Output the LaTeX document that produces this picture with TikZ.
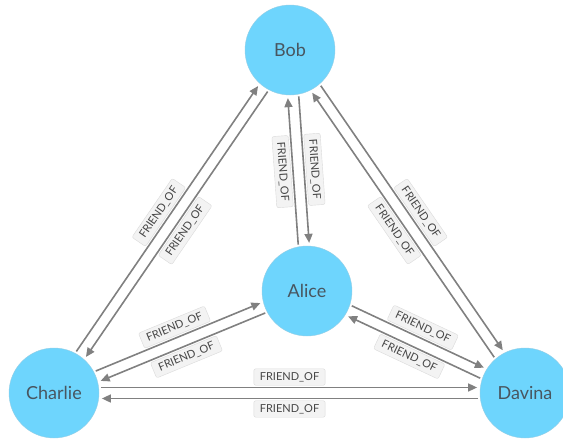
\documentclass[tikz,border=0pt]{standalone}
\usepackage{fontspec}
\setmainfont{Lato}
\usetikzlibrary{arrows.meta}

\definecolor{nodefill}{RGB}{110,213,253}
\definecolor{noderim}{RGB}{150,205,228}
\definecolor{nodetext}{RGB}{72,86,96}
\definecolor{relgray}{RGB}{128,128,128}
\definecolor{capfill}{RGB}{243,243,243}
\definecolor{caprim}{RGB}{218,218,218}
\definecolor{captext}{RGB}{70,70,70}

\tikzset{
  person/.style={circle, minimum size=90pt, inner sep=0pt, fill=nodefill,
    draw=noderim, line width=0.4pt, text=nodetext,
    font=\fontsize{18}{20}\selectfont},
  rel/.style={draw=relgray, line width=1.6pt,
    -{Triangle[length=9pt,width=8pt]}, shorten >=3pt, shorten <=2pt},
  caption/.style={fill=capfill, draw=caprim, line width=0.4pt,
    rounded corners=2pt, text=captext, inner xsep=6pt, inner ysep=3.5pt,
    text height=8pt, text depth=1.5pt,
    font=\fontsize{11}{13}\selectfont, sloped, midway},
}

\begin{document}
\begin{tikzpicture}[x=1pt, y=-1pt]
  \useasboundingbox (0,0) rectangle (563,439);

  % people
  \node[person] (B) at (290,50)  {Bob};
  \node[person] (A) at (307,291) {Alice};
  \node[person] (C) at (54,393)  {Charlie};
  \node[person] (D) at (525,393) {Davina};

  % relationships, each pair offset to the left of its direction
  \draw[rel] (C.62.4)  -- (B.228.4) node[caption, above=2pt] {FRIEND\_OF};
  \draw[rel] (B.242.4) -- (C.48.4)  node[caption, below=2pt] {FRIEND\_OF};

  \draw[rel] (A.101)   -- (B.267)   node[caption, below=2pt] {FRIEND\_OF};
  \draw[rel] (B.281)   -- (A.87)    node[caption, above=2pt] {FRIEND\_OF};

  \draw[rel] (B.311.5) -- (D.117.5) node[caption, above=2pt] {FRIEND\_OF};
  \draw[rel] (D.131.5) -- (B.297.5) node[caption, below=2pt] {FRIEND\_OF};

  \draw[rel] (C.28.8)  -- (A.194.8) node[caption, above=2pt] {FRIEND\_OF};
  \draw[rel] (A.208.8) -- (C.14.8)  node[caption, below=2pt] {FRIEND\_OF};

  \draw[rel] (A.342.1) -- (D.148.1) node[caption, above=2pt] {FRIEND\_OF};
  \draw[rel] (D.162.1) -- (A.328.1) node[caption, below=2pt] {FRIEND\_OF};

  \draw[rel] (C.7)     -- (D.173)   node[caption, above=2pt] {FRIEND\_OF};
  \draw[rel] (D.187)   -- (C.353)   node[caption, below=2pt] {FRIEND\_OF};
\end{tikzpicture}
\end{document}
